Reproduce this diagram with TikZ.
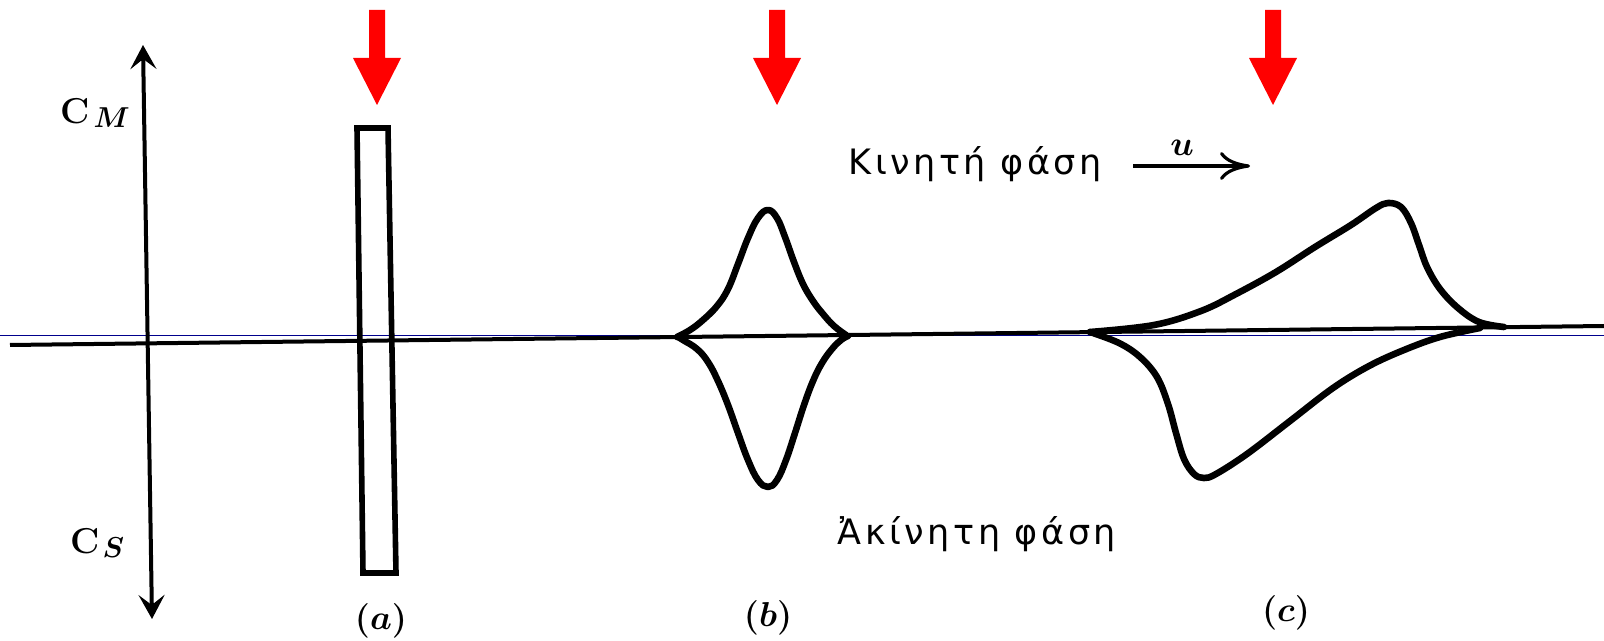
\documentclass[tikz,border=0pt]{standalone}
\usepackage{fontspec}
\usepackage{tikz}
\usetikzlibrary{arrows.meta}
\newfontfamily\grfont[LetterSpace=10]{DejaVu Sans}
\definecolor{guideblue}{RGB}{0,0,140}

\begin{document}
\begin{tikzpicture}[x=0.5pt,y=-0.5pt]
    \tikzset{
    peak/.style={line width=3.3pt, line join=round, line cap=round},
    axis/.style={line width=2pt},
    cname/.style={anchor=base west, inner sep=0pt, font=\fontsize{18}{18}\selectfont\boldmath},
    phase/.style={anchor=base, inner sep=0pt, font=\grfont\fontsize{17.5}{17.5}\selectfont},
    tag/.style={inner sep=0pt, font=\fontsize{16.5}{16.5}\selectfont\boldmath}
    }
    \useasboundingbox (0,0) rectangle (1604,641);

        % guide line and column axis
        \draw[guideblue, line width=0.5pt] (0,336) -- (1604,336);
        \coordinate (left) at (10,345);
        \coordinate (right) at (1604,326);
        \draw[line width=2pt] (left) -- (right);

        % concentration axis
        \coordinate (ctop) at (143,45);
        \coordinate (cbot) at (152,619);
        \draw[axis, {Stealth[length=12pt,width=13pt,inset=5pt]}-{Stealth[length=12pt,width=13pt,inset=5pt]}] (ctop) -- (cbot);
        \node[cname] (cm) at (60,124) {\textbf{C}\kern2pt\raisebox{-2pt}{\fontsize{14}{14}\selectfont\boldmath$M$}};
        \node[cname] (cs) at (70,553) {\textbf{C}\kern1.5pt\raisebox{-2pt}{\fontsize{14}{14}\selectfont\boldmath$S$}};

        % injection arrows
        \foreach \x in {377,777,1273}
            \fill[red] (\x-8,10) -- (\x+8,10) -- (\x+8,58) -- (\x+24,58) -- (\x,105) -- (\x-24,58) -- (\x-8,58) -- cycle;

        % (a) initial band
        \draw[line width=2.8pt] (357,128) -- (388,128) -- (396,573) -- (363,573) -- cycle;

        % (b) equilibrium
        \draw[peak] plot[smooth, tension=0.7] coordinates {(677,337) (690,330) (703,320) (717,306) (728,289) (738,264) (748,238) (758,218) (768,210) (777,218) (785,237) (794,262) (803,284) (813,301) (823,314) (834,326) (846,335)};
        \draw[peak] plot[smooth, tension=0.7] coordinates {(678,337) (683,340) (697,349) (708,362) (718,381) (728,405) (738,433) (748,460) (758,480) (768,487) (777,480) (786,460) (795,433) (804,405) (813,381) (822,363) (832,349) (841,340) (848,336)};

        % (c) non-equilibrium
        \draw[peak] plot[smooth, tension=0.6] coordinates {(1090,332) (1154,325) (1201,311) (1236,294) (1276,272) (1315,247) (1351,225) (1376,208) (1388,203) (1401,207) (1411,223) (1419,245) (1427,267) (1440,289) (1458,308) (1479,322) (1504,327)};
        \draw[peak] plot[smooth, tension=0.6] coordinates {(1090,332) (1119,343) (1140,357) (1157,377) (1168,404) (1176,433) (1184,459) (1194,474) (1204,478) (1216,474) (1247,454) (1290,421) (1333,388) (1369,366) (1404,350) (1440,337) (1480,328)};

        % phases
        \node[phase] (mobile) at (975,175) {Κινητή φάση};
        \node[phase] (stationary) at (977,544) {Ἀκίνητη φάση};
        \coordinate (v0) at (1133,166);
        \coordinate (v1) at (1250,166);
        \draw[line width=1.6pt, -{To[length=15pt,width=14pt]}] (v0) -- (v1) node[pos=0.42, above=1pt, font=\fontsize{19}{19}\selectfont\boldmath] (vel) {$u$};

        \node[tag] (lbla) at (381,621) {$(a)$};
        \node[tag] (lblb) at (768,618) {$(b)$};
        \node[tag] (lblc) at (1286,613) {$(c)$};

    \end{tikzpicture}
\end{document}
